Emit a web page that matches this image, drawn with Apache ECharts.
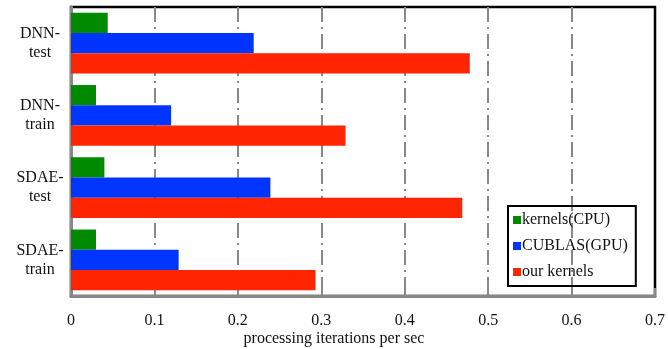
<!DOCTYPE html>
<html><head><meta charset="utf-8">
<script src="https://cdn.jsdelivr.net/npm/echarts@6/dist/echarts.min.js"></script>
<style>html,body{margin:0;padding:0;background:#fff}#c{width:668px;height:349px}</style>
</head><body><div id="c"></div>
<script>
const categories = ['DNN-\ntest', 'DNN-\ntrain', 'SDAE-\ntest', 'SDAE-\ntrain'];
const seriesNames = ['kernels(CPU)', 'CUBLAS(GPU)', 'our kernels'];
const cpuValues = [0.044, 0.030, 0.040, 0.030];
const cublasValues = [0.219, 0.120, 0.239, 0.129];
const oursValues = [0.478, 0.329, 0.469, 0.293];
const xTicks = [0, 0.1, 0.2, 0.3, 0.4, 0.5, 0.6, 0.7];
const xAxisTitle = 'processing iterations per sec';

const font = "'Liberation Serif', 'Times New Roman', serif";
const colors = ['#008a00', '#0035ff', '#ff2500'];
const chart = echarts.init(document.getElementById('c'), null, {renderer: 'canvas'});
chart.setOption({
  animation: false,
  textStyle: {fontFamily: font},
  grid: {left: 71, right: 13, top: 7, bottom: 53, show: true, borderColor: '#000', borderWidth: 2.5, containLabel: false},
  legend: {
    orient: 'vertical', left: 508, top: 206,
    data: seriesNames,
    itemWidth: 8, itemHeight: 8, itemGap: 8,
    borderColor: '#000', borderWidth: 2, padding: [5, 8, 5, 5],
    icon: 'rect',
    textStyle: {fontFamily: font, fontSize: 16, color: '#111', padding: [0, 0, 0, -4], lineHeight: 18}
  },
  xAxis: {
    type: 'value', min: 0, max: 0.7, interval: 0.1,
    axisLine: {show: true, lineStyle: {color: '#888', width: 3}},
    axisTick: {show: true, inside: true, length: 8, lineStyle: {color: '#888', width: 2}},
    axisLabel: {fontFamily: font, fontSize: 16, color: '#111', margin: 17,
      formatter: v => { const t = xTicks.find(x => Math.abs(x - v) < 1e-9); return t === undefined ? '' : String(t); }},
    splitLine: {show: true, showMinLine: false, showMaxLine: false, lineStyle: {color: '#888', width: 2, type: [15, 5, 2, 5]}}
  },
  yAxis: {
    type: 'category', data: categories, inverse: true,
    axisLine: {show: true, lineStyle: {color: '#888', width: 3}},
    axisTick: {show: false},
    axisLabel: {fontFamily: font, fontSize: 16, color: '#111', align: 'center', margin: 31, lineHeight: 19, padding: [6, 0, 0, 0]}
  },
  graphic: [{
    type: 'text', left: 'center', top: 331,
    style: {text: xAxisTitle, font: '16px ' + font, fill: '#111', x: 0}
  }],
  series: [
    {name: seriesNames[0], type: 'bar', data: cpuValues, itemStyle: {color: colors[0]}, barGap: '0%', barCategoryGap: '16%'},
    {name: seriesNames[1], type: 'bar', data: cublasValues, itemStyle: {color: colors[1]}, barGap: '0%', barCategoryGap: '16%'},
    {name: seriesNames[2], type: 'bar', data: oursValues, itemStyle: {color: colors[2]}, barGap: '0%', barCategoryGap: '16%'}
  ]
});
</script></body></html>
